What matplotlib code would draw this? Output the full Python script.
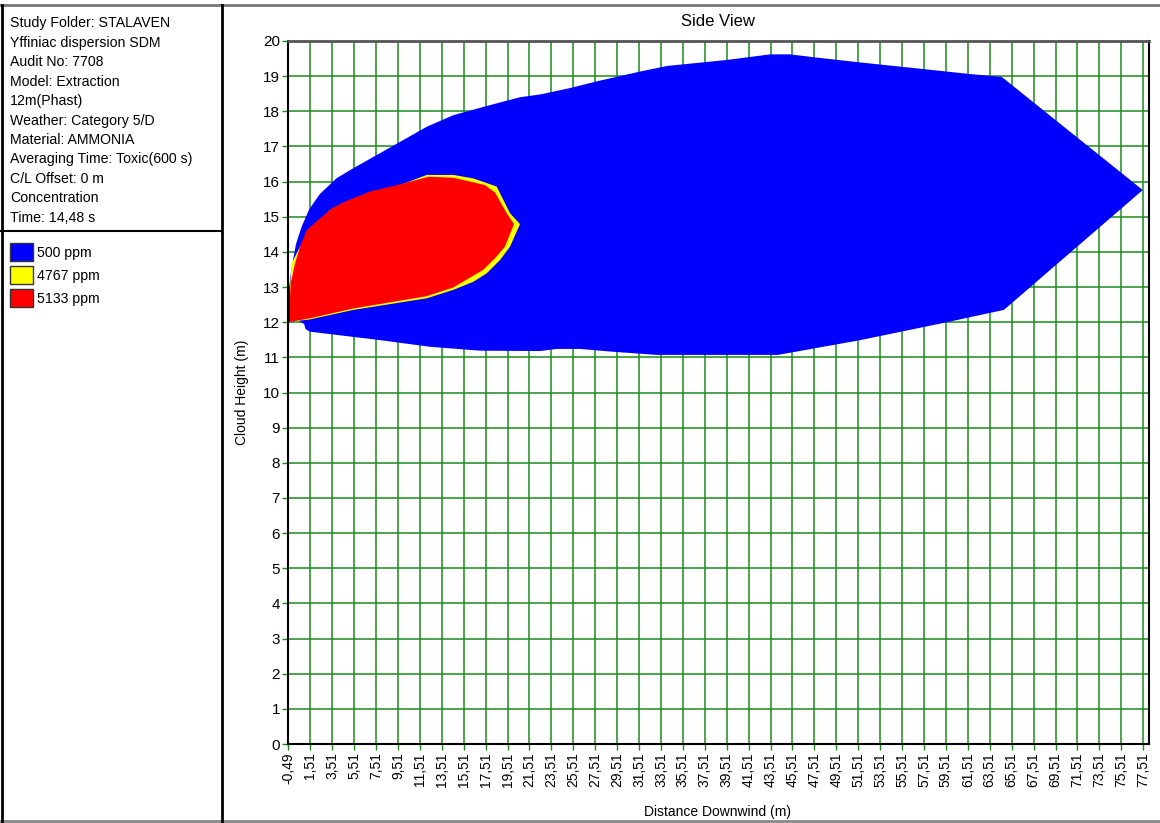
import numpy as np
import matplotlib
matplotlib.use("Agg")
import matplotlib.pyplot as plt
from matplotlib.patches import Rectangle
from matplotlib.lines import Line2D

plt.rcParams['font.family'] = ['Liberation Sans', 'DejaVu Sans']

# 500 ppm cloud outline (distance m, height m)
blue_x = [-0.49, -0.43, -0.27, -0.09, 0.21, 0.73, 1.43, 2.40, 3.93, 5.44, 8.4,
          12.14, 14.57, 17.6, 20.65, 22.5, 25.2, 27.9, 31.6, 34.06, 39.5, 43.5,
          45.3, 47.4, 51.7, 57.8, 61.7, 64.6, 77.47, 64.8, 59.6, 51.7, 44.2,
          37.1, 33.1, 29.1, 26.1, 24.0, 22.5, 17.0, 12.44, 7.88, 1.49, 1.1,
          0.95, 0.55, 0.3, 0.05, -0.49]
blue_y = [12.0, 12.95, 13.35, 13.72, 14.22, 14.72, 15.22, 15.65, 16.1, 16.38, 16.9,
          17.56, 17.89, 18.15, 18.4, 18.48, 18.66, 18.87, 19.13, 19.29, 19.46, 19.62,
          19.62, 19.54, 19.39, 19.19, 19.06, 18.98, 15.76, 12.35, 12.0, 11.49, 11.07,
          11.07, 11.07, 11.16, 11.24, 11.24, 11.18, 11.19, 11.30, 11.49, 11.73, 11.8,
          11.95, 12.02, 12.12, 12.0, 12.0]

# 4767 ppm outline
yellow_x = [-0.33, -0.33, -0.18, 0.58, 1.49, 2.40, 3.31, 4.53, 6.96, 9.70, 12.14,
            14.57, 16.39, 18.52, 19.74, 20.65, 19.74, 18.83, 17.61, 16.39, 14.57,
            12.14, 5.44, 1.49]
yellow_y = [12.01, 13.0, 13.68, 14.15, 14.53, 14.91, 15.19, 15.38, 15.69, 15.90, 16.19,
            16.19, 16.09, 15.86, 15.10, 14.79, 14.15, 13.77, 13.39, 13.15, 12.92,
            12.68, 12.35, 12.08]

# 5133 ppm outline
red_x = [-0.33, -0.33, -0.27, 0.12, 0.58, 1.19, 2.4, 3.4, 4.6, 7.0, 9.7, 12.3,
         14.57, 16.39, 17.46, 18.37, 19.44, 20.1, 19.28, 18.37, 17.3, 14.57, 12.14,
         5.44, 1.49]
red_y = [12.01, 12.73, 13.1, 13.67, 14.15, 14.62, 14.95, 15.22, 15.42, 15.72, 15.92, 16.14,
         16.11, 15.98, 15.9, 15.69, 15.10, 14.79, 14.15, 13.82, 13.49, 12.99, 12.74,
         12.39, 12.11]

info_lines = ["Study Folder: STALAVEN", "Yffiniac dispersion SDM", "Audit No: 7708",
              "Model: Extraction", "12m(Phast)", "Weather: Category 5/D",
              "Material: AMMONIA", "Averaging Time: Toxic(600 s)", "C/L Offset: 0 m",
              "Concentration", "Time: 14,48 s"]
legend_labels = ["500 ppm", "4767 ppm", "5133 ppm"]
legend_colors = ["#0000ff", "#ffff00", "#ff0000"]

x_ticks = np.arange(-0.49, 77.6, 2)
x_tick_labels = [f"{v:.2f}".replace(".", ",") for v in x_ticks]
y_ticks = list(range(0, 21))

W, H = 1160, 823
def fx(p):
    return p / W
def fy(p):
    return 1 - p / H

fig = plt.figure(figsize=(W / 100, H / 100), dpi=100)
ax = fig.add_axes([fx(288.3), fy(744), fx(1149) - fx(288.3), fy(41) - fy(744)])

ax.fill(blue_x, blue_y, color="#0000ff", lw=0)
ax.fill(yellow_x, yellow_y, color="#ffff00", lw=0)
ax.fill(red_x, red_y, color="#ff0000", lw=0)

ax.set_xlim(-0.49, 78.04)
ax.set_ylim(0, 20)
ax.set_xticks(x_ticks)
ax.set_xticklabels(x_tick_labels, rotation=90, fontsize=10)
ax.set_yticks(y_ticks)
ax.set_yticklabels([str(v) for v in y_ticks], fontsize=11)
ax.tick_params(axis='both', color='#1a8c1a', length=4, width=1, pad=2)
ax.set_axisbelow(True)
ax.grid(True, color='#1a8c1a', lw=1.1)
for side in ['left', 'bottom', 'right']:
    ax.spines[side].set_color('black')
    ax.spines[side].set_linewidth(1.5)
ax.spines['top'].set_color('#555555')
ax.spines['top'].set_linewidth(2)

# titles and axis labels
fig.text(fx(718), fy(22), "Side View", ha='center', va='center', fontsize=12)
fig.text(fx(242), fy(392), "Cloud Height (m)", ha='center', va='center', rotation=90, fontsize=10)
fig.text(fx(718), fy(812), "Distance Downwind (m)", ha='center', va='center', fontsize=10)

# info panel
for i, line in enumerate(info_lines):
    fig.text(fx(10), fy(23 + 19.5 * i), line, ha='left', va='center', fontsize=10.2)
for i, (lab, col) in enumerate(zip(legend_labels, legend_colors)):
    top = 243 + 23 * i
    fig.patches.append(Rectangle((fx(10), fy(top + 18)), fx(23), 18 / H,
                                 transform=fig.transFigure, facecolor=col,
                                 edgecolor='#333333', lw=1))
    fig.text(fx(37), fy(top + 10), lab, ha='left', va='center', fontsize=10.2)

# frame lines
frame = [((0, W), (5, 5), '#777777', 2), ((0, W), (821, 821), '#888888', 2),
         ((1.5, 1.5), (5, 823), 'black', 2), ((222, 222), (5, 823), 'black', 2),
         ((0, 222), (231, 231), 'black', 1.5)]
for xs, ys, c, w in frame:
    fig.lines.append(Line2D([fx(xs[0]), fx(xs[1])], [fy(ys[0]), fy(ys[1])],
                            transform=fig.transFigure, color=c, lw=w))

fig.savefig("out.png", dpi=100)
